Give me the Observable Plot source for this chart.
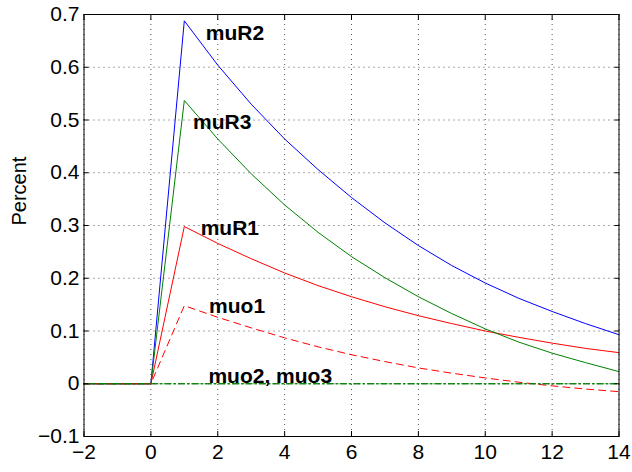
<!DOCTYPE html>
<html>
<head>
<meta charset="utf-8">
<script src="https://cdn.jsdelivr.net/npm/d3@7"></script>
<script src="https://cdn.jsdelivr.net/npm/@observablehq/plot@0.6"></script>
<style>
  html, body { margin: 0; padding: 0; background: #fff; }
  #chart svg { display: block; }
</style>
</head>
<body>
<div id="chart"></div>
<script>
// Horizon (quarters)
const horizon = [-2, -1, 0, 1, 2, 3, 4, 5, 6, 7, 8, 9, 10, 11, 12, 13, 14];

// Series values (Percent)
const muR1 = [0, 0, 0, 0.298, 0.266, 0.237, 0.210, 0.186, 0.165, 0.146, 0.129, 0.114, 0.100, 0.088, 0.077, 0.067, 0.059];
const muR2 = [0, 0, 0, 0.688, 0.604, 0.530, 0.464, 0.406, 0.353, 0.305, 0.262, 0.224, 0.191, 0.162, 0.137, 0.114, 0.093];
const muR3 = [0, 0, 0, 0.537, 0.464, 0.398, 0.339, 0.287, 0.241, 0.201, 0.165, 0.133, 0.104, 0.079, 0.058, 0.040, 0.023];
const muo1 = [0, 0, 0, 0.148, 0.126, 0.106, 0.087, 0.070, 0.055, 0.042, 0.030, 0.020, 0.011, 0.003, -0.004, -0.010, -0.015];
const muo2 = [0, 0, 0, 0, 0, 0, 0, 0, 0, 0, 0, 0, 0, 0, 0, 0, 0];
const muo3 = [0, 0, 0, 0, 0, 0, 0, 0, 0, 0, 0, 0, 0, 0, 0, 0, 0];

// Axis ticks
const xTicks = [-2, 0, 2, 4, 6, 8, 10, 12, 14];
const xTickLabels = ["\u22122", "0", "2", "4", "6", "8", "10", "12", "14"];
const yTicks = [-0.1, 0, 0.1, 0.2, 0.3, 0.4, 0.5, 0.6, 0.7];
const yTickLabels = ["\u22120.1", "0", "0.1", "0.2", "0.3", "0.4", "0.5", "0.6", "0.7"];

// In-plot annotations (data coordinates)
const labelText = ["muR2", "muR3", "muR1", "muo1", "muo2, muo3"];
const labelX = [1.64, 1.26, 1.49, 1.74, 1.72];
const labelY = [0.664, 0.4955, 0.295, 0.146, 0.015];

const toRows = (vals) => horizon.map((x, i) => ({x, y: vals[i]}));
const labels = labelText.map((t, i) => ({text: t, x: labelX[i], y: labelY[i]}));
const xLab = xTicks.map((v, i) => ({v, t: xTickLabels[i]}));
const yLab = yTicks.map((v, i) => ({v, t: yTickLabels[i]}));

const font = "'Liberation Sans', Arial, Helvetica, sans-serif";
const dashDot = "6,3,1.5,3";

const plot = Plot.plot({
  width: 632,
  height: 472,
  marginLeft: 83.5,
  marginRight: 13.5,
  marginTop: 14,
  marginBottom: 36,
  style: {fontFamily: font, fontSize: "21px", color: "#000", background: "#fff", overflow: "visible"},
  x: {domain: [-2, 14]},
  y: {domain: [-0.1, 0.7]},
  marks: [
    Plot.gridX(xTicks, {stroke: "#555", strokeOpacity: 1, strokeDasharray: "1,4", strokeWidth: 1}),
    Plot.gridY(yTicks, {stroke: "#555", strokeOpacity: 1, strokeDasharray: "1,4", strokeWidth: 1}),
    Plot.line(toRows(muR1), {x: "x", y: "y", stroke: "#ff0000", strokeWidth: 1}),
    Plot.line(toRows(muR2), {x: "x", y: "y", stroke: "#0000ff", strokeWidth: 1}),
    Plot.line(toRows(muR3), {x: "x", y: "y", stroke: "#008000", strokeWidth: 1}),
    Plot.line(toRows(muo1), {x: "x", y: "y", stroke: "#ff0000", strokeWidth: 1, strokeDasharray: "7,5"}),
    Plot.line(toRows(muo2), {x: "x", y: "y", stroke: "#008000", strokeWidth: 1, strokeDasharray: dashDot}),
    Plot.line(toRows(muo3), {x: "x", y: "y", stroke: "#008000", strokeWidth: 1, strokeDasharray: dashDot}),
    Plot.text(labels, {x: "x", y: "y", text: "text", textAnchor: "start", lineAnchor: "middle", fontWeight: "bold", fontSize: 21, fill: "#000"}),
    Plot.frame({stroke: "#000", strokeWidth: 1}),
    // tick labels
    Plot.text(xLab, {x: "v", text: "t", frameAnchor: "bottom", lineAnchor: "top", dy: 8, fontSize: 21, fill: "#000"}),
    Plot.text(yLab, {y: "v", text: "t", frameAnchor: "left", textAnchor: "end", lineAnchor: "middle", dx: -4.5, fontSize: 21, fill: "#000"}),
    // inward ticks on all four sides
    Plot.axisX({anchor: "bottom", ticks: xTicks, tickSize: -5, tickFormat: () => "", label: null, stroke: "#000"}),
    Plot.axisX({anchor: "top", ticks: xTicks, tickSize: -5, tickFormat: () => "", label: null, stroke: "#000"}),
    Plot.axisY({anchor: "left", ticks: yTicks, tickSize: -5, tickFormat: () => "", label: null, stroke: "#000"}),
    Plot.axisY({anchor: "right", ticks: yTicks, tickSize: -5, tickFormat: () => "", label: null, stroke: "#000"}),
    Plot.text(["Percent"], {frameAnchor: "left", dx: -64.5, rotate: -90, fontSize: 20, fill: "#000"})
  ]
});
document.getElementById("chart").appendChild(plot);
</script>
</body>
</html>
